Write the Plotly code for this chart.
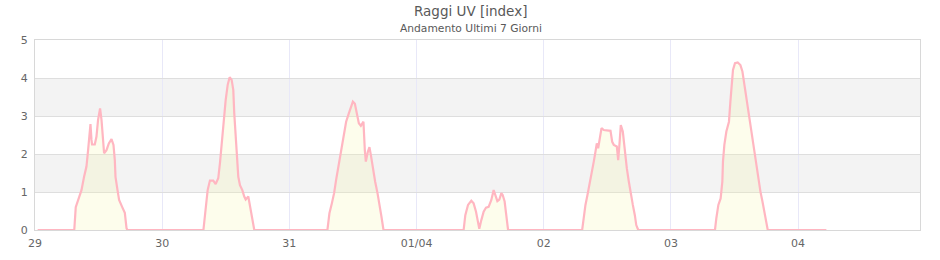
import pandas as pd
import plotly.graph_objects as go

# ---- data (hour of day, UV index) ----
day_dates = ["2025-03-29", "2025-03-30", "2025-03-31", "2025-04-01",
             "2025-04-02", "2025-04-03"]

d29_hours = [7.41, 7.69, 8.13, 8.77, 9.26, 9.71, 10.02, 10.34, 10.47, 10.66, 10.77,
             11.28, 11.60, 11.90, 12.28, 12.55, 12.85, 13.04, 13.49, 13.93, 14.44,
             14.81, 15.06, 15.19, 15.57, 15.87, 16.44, 16.95, 17.27, 17.42]
d29_uv = [0, 0.6, 0.79, 1.05, 1.40, 1.67, 2.1, 2.63, 2.79, 2.37, 2.25,
          2.25, 2.46, 2.9, 3.2, 2.9, 2.37, 2.02, 2.1, 2.28, 2.39,
          2.24, 1.84, 1.4, 1.05, 0.79, 0.61, 0.45, 0.05, 0]

d30_hours = [7.78, 7.93, 8.26, 8.58, 9.01, 9.64, 10.09, 10.58, 10.90, 11.22, 11.53,
             11.98, 12.36, 12.73, 13.11, 13.42, 13.60, 13.87, 14.11, 14.36, 14.68,
             15.12, 15.49, 15.76, 16.25, 16.57, 17.01, 17.38]
d30_uv = [0, 0.18, 0.7, 1.05, 1.3, 1.3, 1.21, 1.36, 1.76, 2.28, 2.9,
          3.42, 3.82, 4.02, 3.95, 3.68, 3.07, 2.46, 1.93, 1.40, 1.18,
          1.05, 0.88, 0.8, 0.88, 0.61, 0.26, 0]

d31_hours = [7.18, 7.56, 8.01, 8.44, 8.82, 9.26, 9.71, 10.20, 10.71, 11.22, 11.66,
             11.98, 12.36, 12.73, 13.11, 13.49, 13.98, 14.24, 14.43, 14.81, 15.11,
             15.38, 15.76, 16.19, 16.63, 17.01, 17.38, 17.76]
d31_uv = [0, 0.44, 0.70, 0.97, 1.32, 1.67, 2.02, 2.46, 2.85, 3.07, 3.29,
          3.38, 3.32, 3.03, 2.81, 2.74, 2.85, 2.1, 1.80, 2.06, 2.18,
          1.97, 1.58, 1.27, 0.97, 0.70, 0.35, 0]

d01_hours = [8.88, 9.20, 9.71, 10.33, 10.77, 11.22, 11.60, 11.84, 12.22, 12.66, 13.11,
             13.60, 14.11, 14.55, 14.87, 15.25, 15.62, 16.00, 16.25, 16.62, 16.89, 17.27]
d01_uv = [0, 0.39, 0.66, 0.77, 0.70, 0.48, 0.22, 0.03, 0.26, 0.48, 0.59,
          0.61, 0.79, 1.05, 0.92, 0.76, 0.80, 0.97, 0.92, 0.75, 0.44, 0]

d02_hours = [7.25, 7.55, 7.87, 8.25, 8.63, 9.01, 9.44, 9.76, 10.01, 10.27, 10.52,
             10.90, 11.33, 11.97, 12.60, 12.92, 13.22, 13.79, 14.05, 14.30, 14.54,
             14.92, 15.30, 15.68, 16.06, 16.43, 16.81, 17.19, 17.46, 17.83]
d02_uv = [0, 0.39, 0.66, 0.92, 1.18, 1.45, 1.8, 2.06, 2.28, 2.15, 2.41,
          2.68, 2.63, 2.62, 2.61, 2.32, 2.24, 2.2, 1.84, 2.28, 2.76,
          2.59, 2.06, 1.62, 1.27, 0.92, 0.66, 0.39, 0.13, 0]

d03_hours = [8.31, 8.57, 8.95, 9.38, 9.70, 9.82, 10.08, 10.46, 10.95, 11.22, 11.46,
             11.71, 12.09, 12.60, 13.11, 13.49, 13.87, 14.24, 14.62, 15.00, 15.38,
             15.76, 16.14, 16.51, 16.89, 17.27, 17.65, 18.03, 18.27]
d03_uv = [0, 0.31, 0.66, 0.83, 1.27, 1.80, 2.24, 2.59, 2.85, 3.38, 3.9,
          4.21, 4.39, 4.41, 4.34, 4.17, 3.82, 3.47, 3.16, 2.85, 2.41,
          2.06, 1.71, 1.36, 1.01, 0.75, 0.48, 0.18, 0]

series_start = "2025-03-29 00:30"
series_end = "2025-04-04 05:20"

tick_dates = ["2025-03-29", "2025-03-30", "2025-03-31", "2025-04-01",
              "2025-04-02", "2025-04-03", "2025-04-04"]
tick_labels = ["29", "30", "31", "01/04", "02", "03", "04"]

x_range = ["2025-03-29 00:00", "2025-04-04 23:00"]
y_ticks = [0, 1, 2, 3, 4, 5]
band_ranges = [(1, 2), (3, 4)]

title_text = "Raggi UV [index]"
subtitle_text = "Andamento Ultimi 7 Giorni"

# ---- build the series ----
all_hours = [d29_hours, d30_hours, d31_hours, d01_hours, d02_hours, d03_hours]
all_uv = [d29_uv, d30_uv, d31_uv, d01_uv, d02_uv, d03_uv]

xs = [pd.Timestamp(series_start)]
ys = [0]
for date, hrs, vals in zip(day_dates, all_hours, all_uv):
    base = pd.Timestamp(date)
    for h, v in zip(hrs, vals):
        xs.append(base + pd.Timedelta(hours=h))
        ys.append(v)
xs.append(pd.Timestamp(series_end))
ys.append(0)

FONT = "DejaVu Sans, Verdana, sans-serif"
W, H = 940, 260
ML, MR, MT, MB = 35, 20, 40, 30
plot_h = H - MT - MB
plot_w = W - ML - MR


def py(pix):
    return (H - MB - pix) / plot_h


def px(pix):
    return (pix - ML) / plot_w


fig = go.Figure()
fig.add_trace(go.Scatter(
    x=xs, y=ys, mode="lines",
    line=dict(color="#ffb6c1", width=2.2),
    fill="tozeroy", fillcolor="rgba(245,245,170,0.22)",
    hoverinfo="x+y", showlegend=False,
))

for lo, hi in band_ranges:
    fig.add_hrect(y0=lo, y1=hi, fillcolor="#f3f3f3", line_width=0, layer="below")

fig.update_layout(
    width=W, height=H,
    margin=dict(l=ML, r=MR, t=MT, b=MB, autoexpand=False),
    paper_bgcolor="white", plot_bgcolor="white",
    font=dict(family=FONT, color="#666666", size=11),
    showlegend=False,
    annotations=[
        dict(text=title_text, x=px(470), xref="paper", xanchor="center",
             y=py(11), yref="paper", yanchor="middle", showarrow=False,
             font=dict(size=13.5, color="#595959", family=FONT)),
        dict(text=subtitle_text, x=px(471), xref="paper", xanchor="center",
             y=py(28), yref="paper", yanchor="middle", showarrow=False,
             font=dict(size=10.7, color="#595959", family=FONT)),
    ],
)

fig.update_xaxes(
    type="date", range=x_range,
    tickvals=tick_dates, ticktext=tick_labels,
    showgrid=True, gridcolor="#e8e8f8", gridwidth=1,
    showline=True, linecolor="#d8d8d8", linewidth=1, mirror=True,
    ticks="", ticklabelstandoff=3, automargin=False,
    tickfont=dict(size=11, color="#666666", family=FONT),
    zeroline=False, fixedrange=True,
)
fig.update_yaxes(
    range=[0, 5], tickvals=y_ticks,
    showgrid=True, gridcolor="#dedede", gridwidth=1,
    showline=True, linecolor="#d8d8d8", linewidth=1, mirror=True,
    ticks="", ticklabelstandoff=4, automargin=False,
    tickfont=dict(size=11, color="#666666", family=FONT),
    zeroline=False, fixedrange=True,
)

fig.write_html("out.html", config={"displayModeBar": False})
